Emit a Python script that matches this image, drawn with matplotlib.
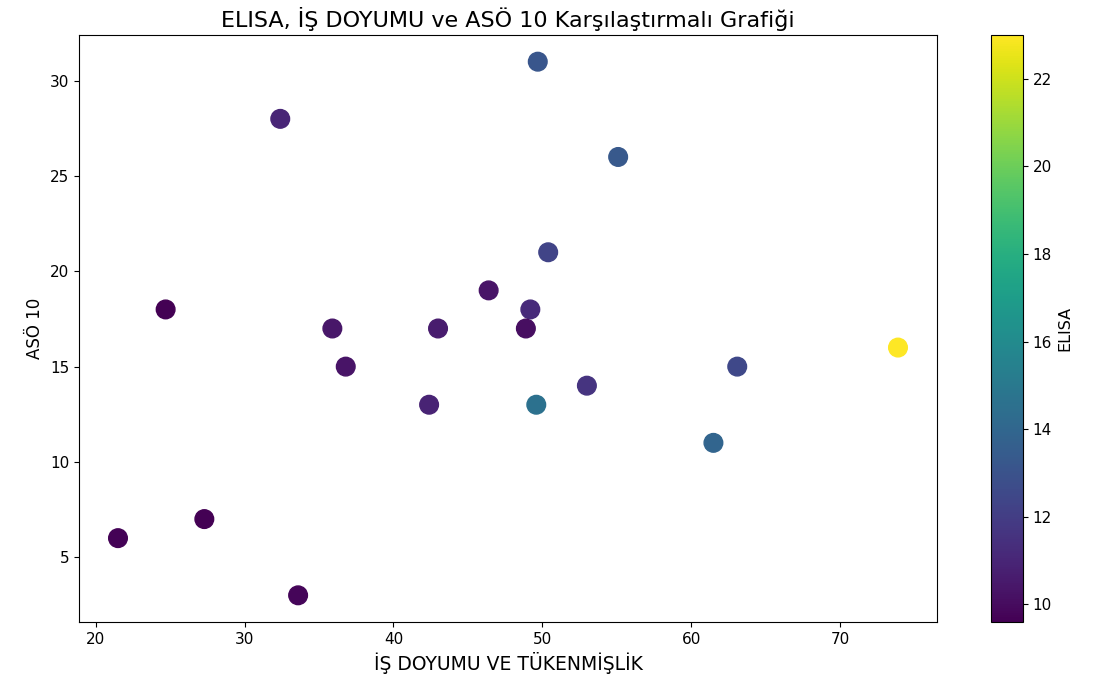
import numpy as np
import matplotlib
matplotlib.use('Agg')
import matplotlib.pyplot as plt

# data
is_doyumu = [49.7, 32.4, 55.1, 50.4, 46.4, 24.7, 49.2, 35.9, 43.0, 48.9,
             36.8, 63.1, 73.9, 53.0, 42.4, 49.6, 61.5, 27.3, 21.5, 33.6]
aso10 = [31, 28, 26, 21, 19, 18, 18, 17, 17, 17,
         15, 15, 16, 14, 13, 13, 11, 7, 6, 3]
elisa = [13.2, 11.0, 13.3, 12.3, 10.3, 9.6, 11.2, 10.4, 10.6, 10.1,
         10.3, 12.5, 23.0, 11.6, 10.9, 14.6, 13.9, 9.6, 9.7, 9.8]

fig = plt.figure(figsize=(10.94, 6.88), dpi=100)
ax = fig.add_axes([79/1094, 66/688, 858/1094, 587/688])
cax = fig.add_axes([991/1094, 66/688, 32/1094, 587/688])

sc = ax.scatter(is_doyumu, aso10, c=elisa, cmap='viridis', s=180)
cb = fig.colorbar(sc, cax=cax)
cb.set_label('ELISA', fontsize=11.5)
cb.ax.tick_params(labelsize=11)

ax.set_title('ELISA, İŞ DOYUMU ve ASÖ 10 Karşılaştırmalı Grafiği', fontsize=16)
ax.set_xlabel('İŞ DOYUMU VE TÜKENMİŞLİK', fontsize=13.5)
ax.set_ylabel('ASÖ 10', fontsize=12)
ax.tick_params(labelsize=11)

fig.savefig('out.png', dpi=100)
